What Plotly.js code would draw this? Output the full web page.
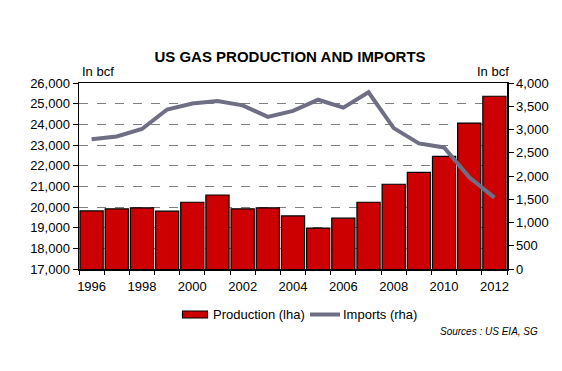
<!DOCTYPE html>
<html>
<head>
<meta charset="utf-8">
<script src="https://cdn.plot.ly/plotly-3.0.1.min.js"></script>
<style>html,body{margin:0;padding:0;background:#fff;}#chart{width:562px;height:371px;}</style>
</head>
<body>
<div id="chart"></div>
<script>
const years = [1996,1997,1998,1999,2000,2001,2002,2003,2004,2005,2006,2007,2008,2009,2010,2011,2012];
const production = [19810,19910,19960,19800,20230,20580,19910,19960,19570,18980,19460,20230,21100,21680,22450,24060,25360];
const imports = [2790,2850,3010,3430,3560,3610,3520,3270,3400,3640,3470,3800,3030,2700,2615,1970,1535];
const xTickVals = [1996,1998,2000,2002,2004,2006,2008,2010,2012];
const leftTicks = [17000,18000,19000,20000,21000,22000,23000,24000,25000,26000];
const rightTicks = [0,500,1000,1500,2000,2500,3000,3500,4000];
const seriesNames = ['Production (lha)','Imports (rha)'];

const fnt = "Liberation Sans, Arial, sans-serif";
const fmt = v => v.toLocaleString('en-US');
const barColor = '#cc0000', lineColor = '#6e6e85';

// plot area in pixels (for legend placement)
const L = 79, R = 507, T = 83, B = 269;
const px = x => (x - L) / (R - L);
const py = y => (B - y) / (B - T);

const traces = [
  {type:'bar', x:years, y:production, name:seriesNames[0],
   marker:{color:barColor, line:{color:'#000', width:1.2}}, yaxis:'y'},
  {type:'scatter', mode:'lines', x:years, y:imports, name:seriesNames[1],
   line:{color:lineColor, width:4}, yaxis:'y2'}
];

const layout = {
  width:562, height:371,
  margin:{l:L, r:562-R, t:T, b:371-B},
  paper_bgcolor:'#fff', plot_bgcolor:'#fff',
  font:{family:fnt, size:13, color:'#000'},
  title:{text:'<b>US GAS PRODUCTION AND IMPORTS</b>', x:0.516, xanchor:'center', y:0.848, yanchor:'middle',
         font:{family:fnt, size:15, color:'#000'}},
  bargap:0.08,
  showlegend:false,
  xaxis:{range:[1995.5,2012.5], tickmode:'array', tickvals:xTickVals,
         ticks:'', showgrid:false, zeroline:false, ticklabelstandoff:5,
         showline:true, linecolor:'#000', linewidth:1.5, mirror:true,
         tickfont:{family:fnt, size:13},
         minor:{ticks:'outside', tick0:1995.5, dtick:1, ticklen:4, tickcolor:'#000', tickwidth:1, showgrid:false}},
  yaxis:{range:[17000,26000], tickmode:'array', tickvals:leftTicks, ticktext:leftTicks.map(fmt),
         ticks:'outside', ticklen:5, tickcolor:'#000',
         showgrid:true, gridcolor:'#808080', griddash:'dash', gridwidth:1,
         showline:true, linecolor:'#000', linewidth:1.5, zeroline:false,
         tickfont:{family:fnt, size:13}},
  yaxis2:{range:[0,4000], overlaying:'y', side:'right', tickmode:'array', tickvals:rightTicks, ticktext:rightTicks.map(fmt),
          ticks:'outside', ticklen:5, tickcolor:'#000', showgrid:false, zeroline:false,
          showline:true, linecolor:'#000', linewidth:1.5,
          tickfont:{family:fnt, size:13}},
  shapes:[
    {type:'rect', xref:'paper', yref:'paper', x0:px(182.5), x1:px(207.5), y0:py(318), y1:py(311),
     fillcolor:barColor, line:{color:'#000', width:1.2}},
    {type:'line', xref:'paper', yref:'paper', x0:px(310), x1:px(340), y0:py(314.5), y1:py(314.5),
     line:{color:lineColor, width:4}}
  ],
  annotations:[
    {text:'In bcf', xref:'paper', yref:'paper', x:0, y:1, xanchor:'left', yanchor:'bottom', yshift:2, xshift:1,
     showarrow:false, font:{family:fnt, size:13}},
    {text:'In bcf', xref:'paper', yref:'paper', x:1, y:1, xanchor:'right', yanchor:'bottom', yshift:2, xshift:4,
     showarrow:false, font:{family:fnt, size:13}},
    {text:seriesNames[0], xref:'paper', yref:'paper', x:px(211), y:py(314.5), xanchor:'left', yanchor:'middle',
     showarrow:false, font:{family:fnt, size:13}},
    {text:seriesNames[1], xref:'paper', yref:'paper', x:px(341), y:py(314.5), xanchor:'left', yanchor:'middle',
     showarrow:false, font:{family:fnt, size:13}},
    {text:'<i>Sources : US EIA, SG</i>', xref:'paper', yref:'paper', x:px(540), y:py(331), xanchor:'right', yanchor:'middle',
     showarrow:false, font:{family:fnt, size:10}}
  ]
};

Plotly.newPlot('chart', traces, layout, {staticPlot:true, displayModeBar:false});
</script>
</body>
</html>
